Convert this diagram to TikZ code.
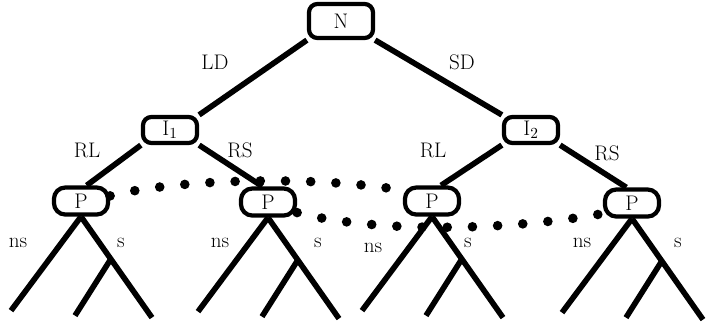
\documentclass[tikz,border=0pt]{standalone}
\usepackage{tikz}
\usetikzlibrary{calc}
\begin{document}
\begin{tikzpicture}[x=0.025cm,y=-0.025cm,
    box/.style={draw,line width=3pt,rounded corners=6pt,minimum width=1.35cm,
      minimum height=0.65cm,inner sep=0pt,font=\fontsize{15}{17}\selectfont},
    edge/.style={line width=4pt},
    lab/.style={font=\fontsize{15}{17}\selectfont},
    dots/.style={line width=0.24cm,line cap=round,dash pattern=on 0pt off 0.63cm}]
  \useasboundingbox (0,0) rectangle (706,325);

  \node[box,minimum width=1.6cm,minimum height=0.85cm] (N) at (341,21) {N};
  \node[box] (I1) at (170,130) {I$_1$};
  \node[box] (I2) at (531,130) {I$_2$};
  \node[box,rounded corners=8pt,minimum height=0.675cm] (P1) at (81,201) {P};
  \node[box,rounded corners=8pt,minimum height=0.675cm] (P2) at (268,202) {P};
  \node[box,rounded corners=8pt,minimum height=0.675cm] (P3) at (432,201) {P};
  \node[box,rounded corners=8pt,minimum height=0.675cm] (P4) at (632,203) {P};

  \draw[edge] (N.south west) -- (I1.north east);
  \draw[edge] (N.south east) -- (I2.north west);
  \draw[edge] (I1.south west) -- (P1.70);
  \draw[edge] (I1.south east) -- (P2.110);
  \draw[edge] (I2.south west) -- (P3.60);
  \draw[edge] (I2.south east) -- (P4.110);

  % subtrees below each P
  \foreach \p in {P1,P2,P3,P4} {
    \coordinate (\p a) at ($(\p.south)+(-70,94)$);
    \coordinate (\p b) at ($(\p.south)+(71,101)$);
    \coordinate (\p m) at ($(\p.south)!0.42!(\p b)$);
    \coordinate (\p c) at ($(\p.south)+(-6,99)$);
    \draw[edge] (\p.south) -- (\p a);
    \draw[edge] (\p.south) -- (\p b);
    \draw[edge] (\p m) -- (\p c);
  }

  \draw[dots] (P1.10) .. controls (180,178) and (320,176) .. (P3.160);
  \draw[dots] (P2.-20) .. controls (370,232) and (500,232) .. (P4.200);

  \node[lab] (ld) at (215,62) {LD};
  \node[lab] (sd) at (462,62) {SD};
  \node[lab] (rl1) at (87,150) {RL};
  \node[lab] (rs1) at (240,150) {RS};
  \node[lab] (rl2) at (433,150) {RL};
  \node[lab] (rs2) at (607,153) {RS};
  \node[lab] (ns1) at (18,243) {ns};
  \node[lab] (s1) at (121,243) {s};
  \node[lab] (ns2) at (220,243) {ns};
  \node[lab] (s2) at (318,243) {s};
  \node[lab] (ns3) at (373,248) {ns};
  \node[lab] (s3) at (468,243) {s};
  \node[lab] (ns4) at (582,243) {ns};
  \node[lab] (s4) at (678,243) {s};
\end{tikzpicture}
\end{document}
